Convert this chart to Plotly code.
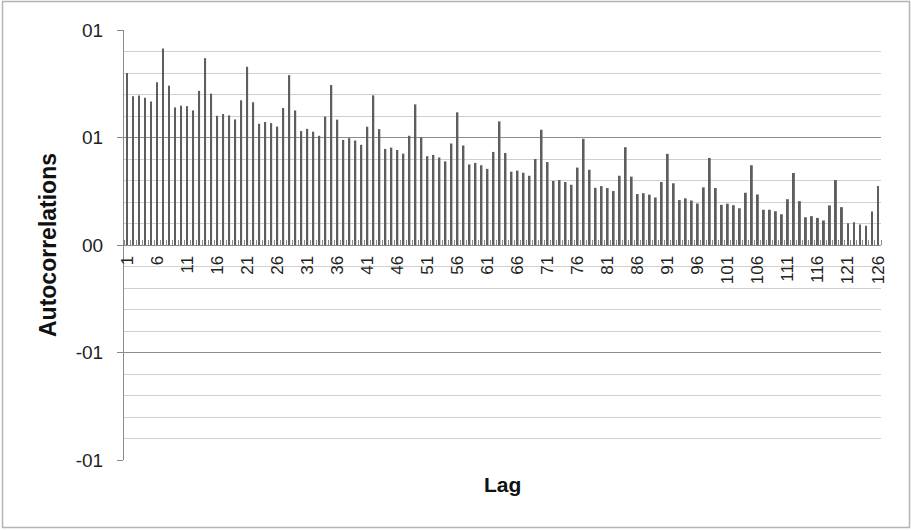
import plotly.graph_objects as go

lags = list(range(1, 127))
autocorr = [
    0.800, 0.692, 0.695, 0.685, 0.668, 0.757, 0.914, 0.741, 0.640, 0.648,
    0.646, 0.626, 0.717, 0.869, 0.704, 0.601, 0.609, 0.603, 0.584, 0.673,
    0.829, 0.664, 0.564, 0.572, 0.567, 0.551, 0.637, 0.790, 0.626, 0.530,
    0.540, 0.527, 0.508, 0.597, 0.744, 0.583, 0.489, 0.497, 0.486, 0.466,
    0.550, 0.696, 0.539, 0.447, 0.453, 0.442, 0.425, 0.508, 0.654, 0.501,
    0.413, 0.419, 0.407, 0.389, 0.472, 0.617, 0.463, 0.375, 0.382, 0.371,
    0.354, 0.433, 0.575, 0.428, 0.341, 0.346, 0.336, 0.322, 0.400, 0.536,
    0.386, 0.298, 0.302, 0.293, 0.280, 0.360, 0.494, 0.350, 0.266, 0.274,
    0.265, 0.251, 0.322, 0.455, 0.318, 0.237, 0.241, 0.234, 0.221, 0.293,
    0.424, 0.287, 0.209, 0.217, 0.207, 0.193, 0.268, 0.405, 0.265, 0.187,
    0.192, 0.185, 0.171, 0.243, 0.371, 0.235, 0.164, 0.164, 0.157, 0.143,
    0.213, 0.335, 0.204, 0.129, 0.134, 0.126, 0.114, 0.184, 0.302, 0.176,
    0.101, 0.106, 0.095, 0.089, 0.156, 0.274,
]
x_tickvals = list(range(1, 127, 5))
x_ticktext = [str(v) for v in x_tickvals]
y_tickvals = [-1, -0.5, 0, 0.5, 1]
y_ticktext = ["-01", "-01", "00", "01", "01"]

W, H = 911, 530
L, R, T, B = 124, 30, 30, 70
pw, ph = W - L - R, H - T - B

fig = go.Figure()
fig.add_trace(go.Bar(
    x=lags, y=autocorr, width=0.32,
    marker=dict(color="#5e5e5e", line=dict(width=0)),
    hoverinfo="x+y",
))

fig.update_layout(
    width=W, height=H,
    margin=dict(l=L, r=R, t=T, b=B, autoexpand=False),
    paper_bgcolor="white", plot_bgcolor="white",
    showlegend=False,
    font=dict(family="Liberation Sans", color="#222"),
    xaxis=dict(
        range=[0.5, 126.5], anchor="free", position=0.5, automargin=False,
        tickmode="array", tickvals=x_tickvals, ticktext=x_ticktext,
        tickangle=-90, tickfont=dict(size=17, color="#222"),
        ticks="", ticklabelstandoff=3,
        showline=True, linecolor="#8a8a8a", linewidth=1,
        showgrid=False, zeroline=False,
        minor=dict(ticks="inside", ticklen=5, tick0=0.5, dtick=1,
                   tickcolor="#8a8a8a", showgrid=False),
    ),
    yaxis=dict(
        range=[-1, 1], automargin=False,
        tickmode="array", tickvals=y_tickvals, ticktext=y_ticktext,
        tickfont=dict(size=19, color="#222"),
        ticks="outside", ticklen=6, tickcolor="#8a8a8a",
        ticklabelstandoff=10,
        showline=True, linecolor="#8a8a8a", linewidth=1,
        showgrid=True, gridcolor="#8c8c8c", gridwidth=1,
        zeroline=False,
        minor=dict(dtick=0.1, showgrid=True, gridcolor="#cfcfcf", ticks=""),
        title=dict(text="<b>Autocorrelations</b>", font=dict(size=23, color="#111"),
                   standoff=12),
    ),
    annotations=[dict(
        text="<b>Lag</b>", x=0.5, y=0, xref="paper", yref="paper",
        xanchor="center", yanchor="middle", yshift=-24, showarrow=False,
        font=dict(size=21, color="#111"),
    )],
    shapes=[dict(
        type="rect", xref="paper", yref="paper",
        x0=(2.5 - L) / pw, x1=(909.5 - L) / pw,
        y0=(H - B - 527.5) / ph, y1=(H - B - 1.5) / ph,
        line=dict(color="#b4b4b4", width=1.5), fillcolor="rgba(0,0,0,0)",
        layer="below",
    )],
)

fig.write_html(
    "out.html",
    config={"displayModeBar": False},
    post_script="document.body.style.margin='0';document.body.style.overflow='hidden';",
)
